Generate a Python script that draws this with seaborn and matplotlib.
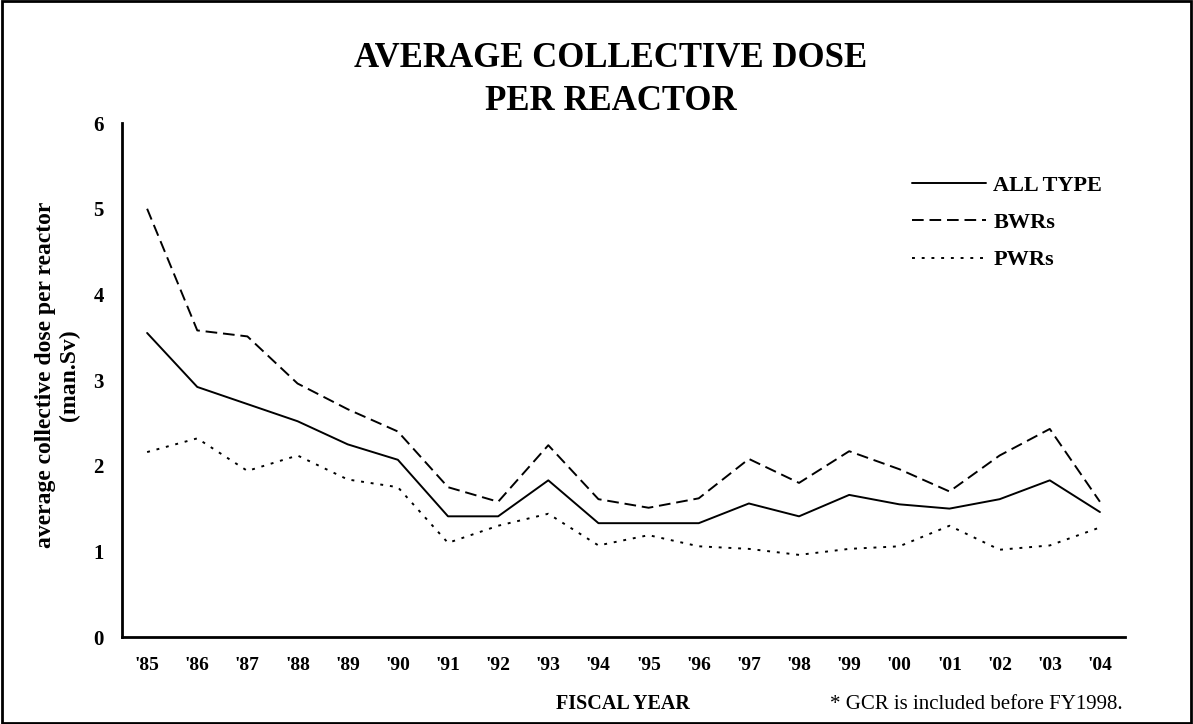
import numpy as np
import pandas as pd
import matplotlib
matplotlib.use('Agg')
import matplotlib.pyplot as plt
import seaborn as sns
from matplotlib.patches import Rectangle

# ============================================
# data
# ============================================
YEARS = ["'85", "'86", "'87", "'88", "'89", "'90", "'91", "'92", "'93", "'94",
         "'95", "'96", "'97", "'98", "'99", "'00", "'01", "'02", "'03", "'04"]
ALL_TYPE = [3.55, 2.92, 2.72, 2.52, 2.25, 2.07, 1.41, 1.41, 1.83, 1.33,
            1.33, 1.33, 1.56, 1.41, 1.66, 1.55, 1.50, 1.61, 1.83, 1.46]
BWRS = [5.00, 3.58, 3.51, 2.96, 2.66, 2.40, 1.75, 1.58, 2.24, 1.61,
        1.51, 1.62, 2.08, 1.80, 2.17, 1.96, 1.70, 2.12, 2.43, 1.58]
PWRS = [2.16, 2.32, 1.94, 2.12, 1.84, 1.75, 1.10, 1.30, 1.44, 1.07,
        1.19, 1.06, 1.03, 0.96, 1.03, 1.06, 1.30, 1.02, 1.07, 1.28]
SERIES = ['ALL TYPE', 'BWRs', 'PWRs']
Y_TICKS = [0, 1, 2, 3, 4, 5, 6]

sns.set_theme(style='white')
plt.rcParams['font.family'] = ['Liberation Serif', 'DejaVu Serif']
plt.rcParams['font.weight'] = 'bold'
plt.rcParams['text.color'] = 'black'
plt.rcParams['axes.labelcolor'] = 'black'
plt.rcParams['xtick.color'] = 'black'
plt.rcParams['ytick.color'] = 'black'

df = pd.DataFrame({
    'idx': np.tile(np.arange(len(YEARS)), 3),
    'dose': ALL_TYPE + BWRS + PWRS,
    'type': np.repeat(SERIES, len(YEARS)),
})

fig = plt.figure(figsize=(11.93, 7.24), dpi=100)
fig.patches.append(Rectangle((0.002, 0.002), 0.996, 0.996, transform=fig.transFigure,
                             fill=False, edgecolor='black', linewidth=2))
ax = fig.add_axes([0.1023, 0.120, 0.8407, 0.710])

sns.lineplot(data=df, x='idx', y='dose', style='type', style_order=SERIES,
             dashes={'ALL TYPE': '', 'BWRs': (6, 3), 'PWRs': (1.5, 3.5)},
             color='black', linewidth=1.4, ax=ax)

# Excel-style axis: ticks sit between the categories
ax.set_xlim(-0.5, len(YEARS) - 0.5)
ax.set_ylim(0, 6)
ax.set_yticks(Y_TICKS)
ax.set_xticks(np.arange(-0.5, len(YEARS), 1.0))
ax.set_xticklabels([])
ax.set_xticks(np.arange(len(YEARS)), minor=True)
ax.set_xticklabels(YEARS, minor=True, fontsize=14, fontweight='bold')
ax.tick_params(axis='x', which='major', direction='in', length=6, width=1.5)
ax.tick_params(axis='x', which='minor', length=0, pad=14)
ax.tick_params(axis='y', direction='in', length=6, width=1.5, labelsize=15, pad=13)
for lbl in ax.get_yticklabels():
    lbl.set_fontweight('bold')
for side in ['top', 'right']:
    ax.spines[side].set_visible(False)
for side in ['left', 'bottom']:
    ax.spines[side].set_color('black')
    ax.spines[side].set_linewidth(2)

ax.set_xlabel('')
ax.set_ylabel('average collective dose per reactor\n(man.Sv)', fontsize=17,
              fontweight='bold', linespacing=1.15)
ax.yaxis.set_label_coords(-0.042, 0.51)

fig.text(0.512, 0.889, 'AVERAGE COLLECTIVE DOSE\nPER REACTOR', ha='center', va='center',
         fontsize=25, fontweight='bold', linespacing=1.4)
fig.text(0.522, 0.027, 'FISCAL YEAR', ha='center', va='center', fontsize=14.5,
         fontweight='bold')
fig.text(0.941, 0.027, '* GCR is included before FY1998.', ha='right', va='center',
         fontsize=15, fontweight='normal')

leg = ax.legend(loc='upper left', bbox_to_anchor=(0.768, 0.937), frameon=False,
                handlelength=3.3, handletextpad=0.35, labelspacing=0.75,
                prop={'size': 16, 'weight': 'bold'})

fig.savefig('out.png', dpi=100)
